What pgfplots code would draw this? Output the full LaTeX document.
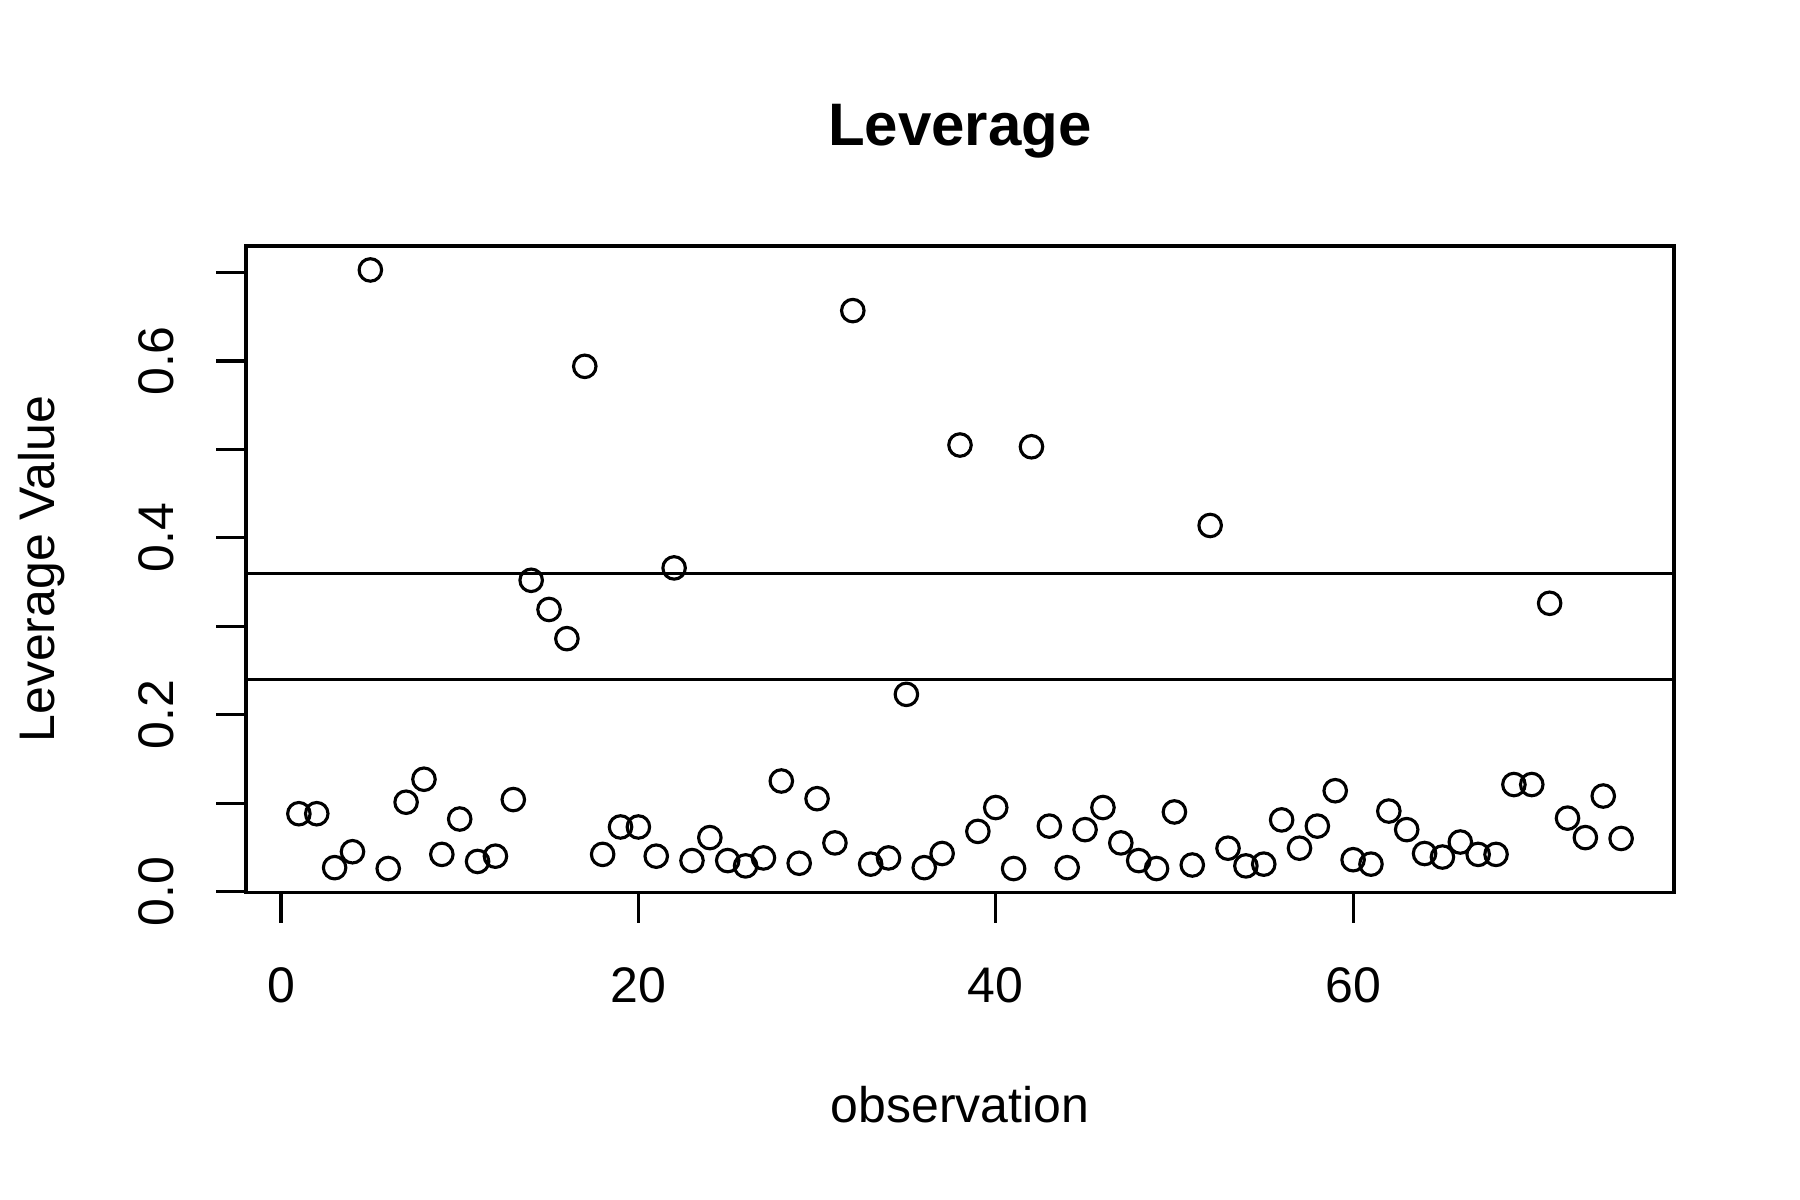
\documentclass[border=0pt]{standalone}
\usepackage{fontspec}
\setmainfont{Liberation Sans}
\usepackage{pgfplots}
\pgfplotsset{compat=1.18}
\usepackage{pgfplotstable}
\pgfplotstableread{
x y
1 0.088
2 0.088
3 0.027
4 0.045
5 0.703
6 0.026
7 0.101
8 0.127
9 0.042
10 0.082
11 0.034
12 0.040
13 0.104
14 0.352
15 0.319
16 0.286
17 0.594
18 0.042
19 0.073
20 0.073
21 0.040
22 0.366
23 0.035
24 0.061
25 0.035
26 0.029
27 0.038
28 0.125
29 0.032
30 0.105
31 0.055
32 0.657
33 0.031
34 0.038
35 0.223
36 0.027
37 0.043
38 0.505
39 0.068
40 0.095
41 0.026
42 0.503
43 0.074
44 0.027
45 0.070
46 0.095
47 0.055
48 0.035
49 0.026
50 0.090
51 0.030
52 0.414
53 0.049
54 0.029
55 0.031
56 0.081
57 0.049
58 0.074
59 0.114
60 0.036
61 0.031
62 0.091
63 0.070
64 0.043
65 0.039
66 0.056
67 0.042
68 0.042
69 0.121
70 0.121
71 0.326
72 0.083
73 0.061
74 0.108
75 0.060
}\levtable
\begin{document}
\begin{tikzpicture}
\useasboundingbox (0,0) rectangle (6in,4in);
\begin{axis}[
  at={(0.82in,1.025in)}, anchor=south west,
  scale only axis, width=4.76in, height=2.155in,
  xmin=-1.96, xmax=77.96, ymin=-0.0011, ymax=0.7301,
  font=\fontsize{12bp}{14.4bp}\selectfont,
  axis line style={line width=0.75bp},
  every tick/.style={black, line width=0.75bp},
  tick align=inside,
  major tick length=-0.1in, minor tick length=-0.1in,
  xtick={0,20,40,60}, xticklabels={0,20,40,60},
  ytick={0,0.2,0.4,0.6}, yticklabels={0.0,0.2,0.4,0.6},
  minor ytick={0.1,0.3,0.5,0.7},
  xtick pos=bottom, ytick pos=left,
  xticklabel style={anchor=base, inner sep=0pt, yshift=-0.365in},
  yticklabel style={rotate=90, anchor=base, inner sep=0pt, yshift=0.24in},
  title={Leverage},
  title style={at={(0.5,1)}, anchor=base, inner sep=0pt, yshift=0.252in, font=\bfseries\fontsize{14.4bp}{17bp}\selectfont},
  xlabel={observation},
  xlabel style={at={(0.5,0)}, anchor=base, inner sep=0pt, yshift=-0.765in},
  ylabel={Leverage Value},
  ylabel style={at={(0,0.5)}, anchor=base, inner sep=0pt, yshift=0.64in},
]
\addplot [only marks, mark=o, mark size=2.7bp, mark options={line width=0.75bp, black}] table [x=x, y=y] {\levtable};
\addplot [black, line width=0.75bp] coordinates {(-1.96,0.24) (77.96,0.24)};
\addplot [black, line width=0.75bp] coordinates {(-1.96,0.36) (77.96,0.36)};
\end{axis}
\end{tikzpicture}
\end{document}
